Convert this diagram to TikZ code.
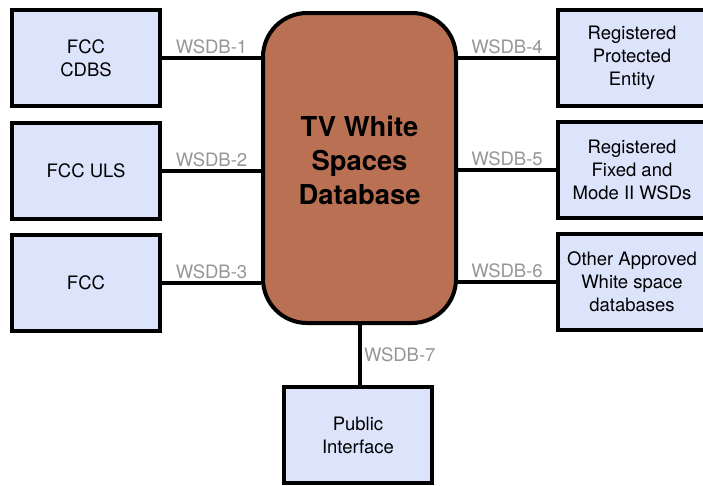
\documentclass[tikz,border=0pt]{standalone}
\usepackage{fontspec}
\setmainfont{TeX Gyre Heros}
\definecolor{boxfill}{RGB}{220,228,252}
\definecolor{dbfill}{RGB}{186,112,82}
\definecolor{lblgray}{RGB}{150,150,150}
\begin{document}
\begin{tikzpicture}[x=1pt,y=-1pt,
  ext/.style={draw=black, line width=4pt, fill=boxfill, minimum width=148pt, minimum height=96pt,
    inner sep=0pt, align=center, font=\fontsize{18.5}{23}\selectfont},
  db/.style={draw=black, line width=4pt, fill=dbfill, rounded corners=44pt,
    minimum width=193pt, minimum height=310pt, inner sep=0pt},
  link/.style={line width=4pt, draw=black},
  lbl/.style={text=lblgray, font=\fontsize{18.5}{22}\selectfont, inner sep=2pt}]
\useasboundingbox (0,0) rectangle (703,485);
\node[db] (db) at (359.5,168) {};
\node[font=\fontsize{27.4}{34}\selectfont\bfseries, align=center] (dbt) at (359.5,160) {TV White\\Spaces\\Database};
\node[ext] (cdbs) at (86,58) {FCC\\CDBS};
\node[ext] (uls) at (86,171) {FCC ULS};
\node[ext] (fcc) at (86,283) {FCC};
\node[ext] (rpe) at (632,58) {Registered\\Protected\\Entity};
\node[ext] (fix) at (632,170) {Registered\\Fixed and\\Mode II WSDs};
\node[ext] (oth) at (632,282) {Other Approved\\White space\\databases};
\node[ext] (pub) at (358,435) {Public\\Interface};
\draw[link] (cdbs.east) -- (cdbs.east -| db.west) node[lbl, midway, above] {WSDB-1};
\draw[link] (uls.east) -- (uls.east -| db.west) node[lbl, midway, above] {WSDB-2};
\draw[link] (fcc.east) -- (fcc.east -| db.west) node[lbl, midway, above] {WSDB-3};
\draw[link] (db.east |- rpe.west) -- (rpe.west) node[lbl, midway, above] {WSDB-4};
\draw[link] (db.east |- fix.west) -- (fix.west) node[lbl, midway, above] {WSDB-5};
\draw[link] (db.east |- oth.west) -- (oth.west) node[lbl, midway, above] {WSDB-6};
\draw[link] (db.south -| 360,0) -- (pub.north -| 360,0) node[lbl, midway, right] {WSDB-7};
\end{tikzpicture}
\end{document}
